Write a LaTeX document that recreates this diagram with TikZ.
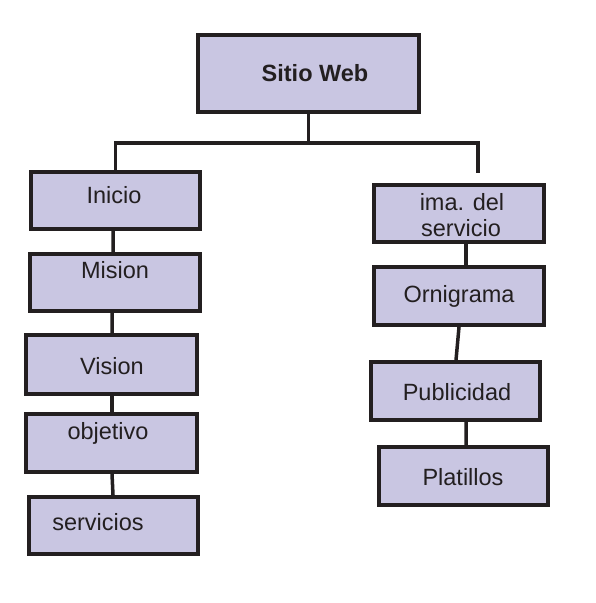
\documentclass[tikz,border=0pt]{standalone}
\usepackage{fontspec}
\setmainfont{Liberation Sans}
\definecolor{boxfill}{HTML}{C9C6E2}
\definecolor{ink}{HTML}{231F20}
\begin{document}
\begin{tikzpicture}[x=1bp,y=-1bp,
  box/.style={draw=ink,fill=boxfill,line width=4bp,inner sep=0pt,rectangle},
  lbl/.style={anchor=base,inner sep=0pt,text=ink,font=\fontsize{23.5bp}{26.5bp}\selectfont},
  conn/.style={draw=ink,line width=3.5bp,line join=miter}]
\fill[white] (0,0) rectangle (596,603);
\useasboundingbox (0,0) rectangle (596,603);
% boxes
\node[box,minimum width=221bp,minimum height=77bp] (top) at (308.5,73.5) {};
\node[box,minimum width=169bp,minimum height=57bp] (inicio) at (115.5,200.5) {};
\node[box,minimum width=170bp,minimum height=57bp] (mision) at (115,282.5) {};
\node[box,minimum width=171bp,minimum height=59bp] (vision) at (111.5,364.5) {};
\node[box,minimum width=171bp,minimum height=58bp] (objetivo) at (111.5,443) {};
\node[box,minimum width=169bp,minimum height=57bp] (servicios) at (113.5,525.5) {};
\node[box,minimum width=170bp,minimum height=57bp] (ima) at (459,213.5) {};
\node[box,minimum width=170bp,minimum height=58bp] (ornigrama) at (459,296) {};
\node[box,minimum width=169bp,minimum height=58bp] (publicidad) at (455.5,391) {};
\node[box,minimum width=169bp,minimum height=58bp] (platillos) at (463.5,476) {};
% labels
\node[lbl,font=\fontsize{23.5bp}{26.5bp}\selectfont\bfseries] (tTop) at (315,82) {Sitio Web};
\node[lbl] (tInicio) at (114,203) {Inicio};
\node[lbl] (tMision) at (115,278) {Mision};
\node[lbl] (tVision) at (112,374) {Vision};
\node[lbl] (tObjetivo) at (108,439) {objetivo};
\node[lbl] (tServicios) at (98,530) {servicios};
\node[lbl] (tIma1) at (462,210) {ima. del};
\node[lbl] (tIma2) at (461,236) {servicio};
\node[lbl] (tOrnigrama) at (459,302) {Ornigrama};
\node[lbl] (tPublicidad) at (457,400) {Publicidad};
\node[lbl] (tPlatillos) at (463,485) {Platillos};
% connectors
\coordinate (barL) at (115,143);
\coordinate (barR) at (478,143);
\coordinate (rend) at (478,173);
\draw[conn] (top.south) -- (top.south |- barL);
\draw[conn] (inicio.north) |- (barR) -- (rend);
\draw[conn] ([xshift=-2.5bp]inicio.south) -- ([xshift=-2bp]mision.north);
\draw[conn] ([xshift=-3bp]mision.south) -- ([xshift=0.5bp]vision.north);
\draw[conn] ([xshift=0.5bp]vision.south) -- ([xshift=0.5bp]objetivo.north);
\draw[conn] ([xshift=0.5bp]objetivo.south) -- ([xshift=-0.5bp]servicios.north);
\draw[conn] ([xshift=7bp]ima.south) -- ([xshift=7bp]ornigrama.north);
\draw[conn] (ornigrama.south) -- ([xshift=0.5bp]publicidad.north);
\draw[conn] ([xshift=10.5bp]publicidad.south) -- ([xshift=2.5bp]platillos.north);
\end{tikzpicture}
\end{document}
